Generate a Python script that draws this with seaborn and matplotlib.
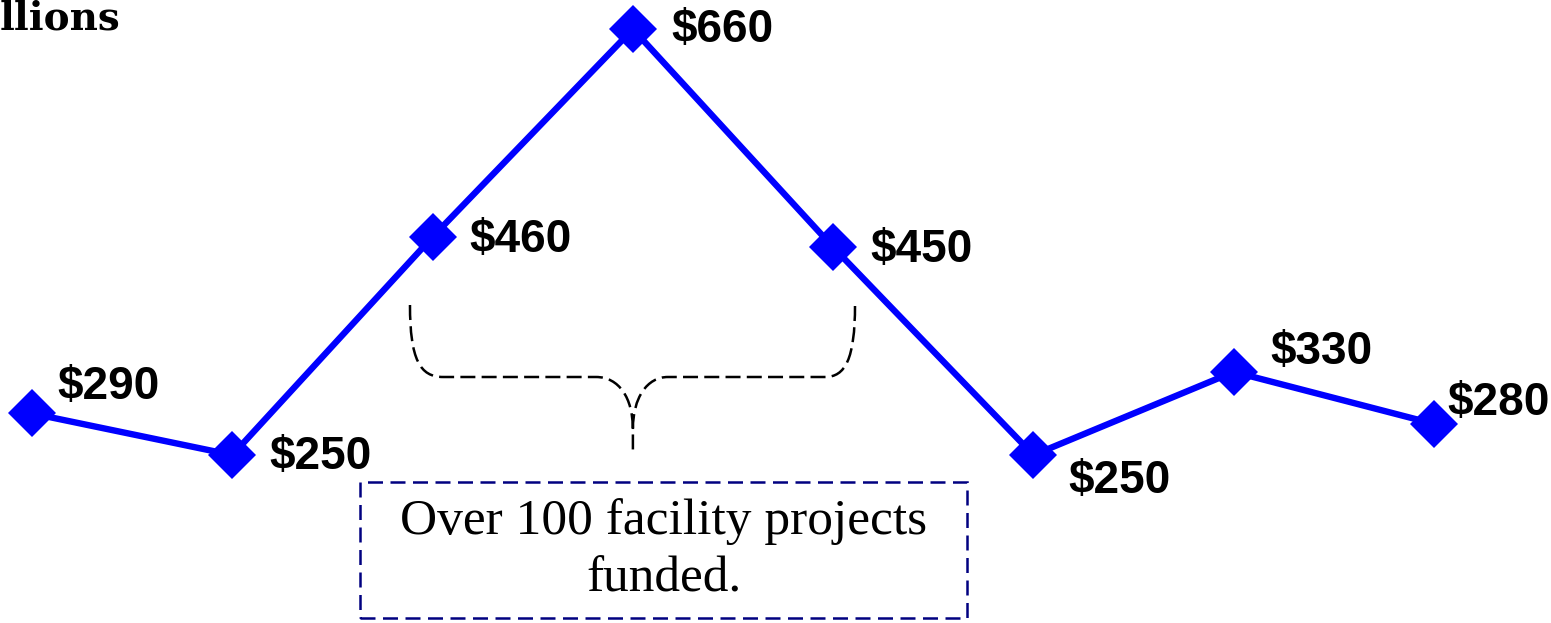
import numpy as np
import matplotlib
matplotlib.use("Agg")
import matplotlib.pyplot as plt
import seaborn as sns
import pandas as pd
from matplotlib.path import Path
from matplotlib.patches import PathPatch, Rectangle

# data ($ millions per period)
periods = list(range(8))
values = [290, 250, 460, 660, 450, 250, 330, 280]
labels = [f"${v}" for v in values]
note_text = "Over 100 facility projects\nfunded."
unit_text = "llions"

# label offsets in pixels (dx, dy with y pointing down)
label_offsets = [(25, -26), (37, 2), (37, 3), (38, 1),
                 (37, 3), (35, 26), (37, -20), (13, -21)]

sns.set_style("white")
plt.rcParams["font.family"] = ["Liberation Sans", "DejaVu Sans"]

df = pd.DataFrame({"period": periods, "value": values})

fig = plt.figure(figsize=(15.51, 6.23), dpi=100)
ax = fig.add_axes([0, 0, 1, 1])

sns.lineplot(data=df, x="period", y="value", ax=ax, color="#0000FF",
             linewidth=4.6, marker="D", markersize=24,
             markeredgewidth=0, markerfacecolor="#0000FF")

for x, y, lab, (dx, dy) in zip(periods, values, labels, label_offsets):
    ax.annotate(lab, (x, y), xytext=(dx * 0.72, -dy * 0.72),
                textcoords="offset points", ha="left", va="center",
                fontsize=33, fontweight="bold", color="black")

# curly brace over the peak years
xl, xr, xc = 1.887, 4.109, 3.0
ytop, ymid, yapex, ybot = 394.4, 325.1, 275.0, 254.8
verts = [
    (xl, ytop), (xl, 341.9), (1.937, ymid), (2.052, ymid),
    (2.816, ymid),
    (2.93, ymid), (xc, 305.0), (xc, yapex),
    (xc, ybot),
    (xc, yapex),
    (xc, 305.0), (3.07, ymid), (3.175, ymid),
    (3.959, ymid),
    (4.059, ymid), (xr, 341.9), (xr, ytop),
]
codes = [Path.MOVETO, Path.CURVE4, Path.CURVE4, Path.CURVE4,
         Path.LINETO,
         Path.CURVE4, Path.CURVE4, Path.CURVE4,
         Path.LINETO,
         Path.MOVETO,
         Path.CURVE4, Path.CURVE4, Path.CURVE4,
         Path.LINETO,
         Path.CURVE4, Path.CURVE4, Path.CURVE4]
ax.add_patch(PathPatch(Path(verts, codes), fill=False, edgecolor="black",
                       linewidth=1.8, linestyle=(0, (6, 2.5))))

# note box
ax.add_patch(Rectangle((0.2321, 0.008), 0.3914, 0.2183, transform=ax.transAxes,
                       fill=False, edgecolor="#000080", linewidth=1.8,
                       linestyle=(0, (6, 3))))
ax.text(0.4278, 0.117, note_text, transform=ax.transAxes, ha="center",
        va="center", fontsize=37, color="black",
        family=["Liberation Serif", "DejaVu Serif"], linespacing=1.3)

# unit label (top-left, only its tail is visible in the source)
ax.text(0.0, 0.952, unit_text, transform=ax.transAxes, ha="left",
        va="baseline", fontsize=28, fontweight="bold", color="black",
        family=["DejaVu Serif"])

ax.set_xlim(-0.16, 7.584)
ax.set_ylim(88.3, 688)
ax.set_xlabel("")
ax.set_ylabel("")
ax.set_xticks([])
ax.set_yticks([])
for s in ax.spines.values():
    s.set_visible(False)

fig.savefig("out.png", dpi=100)
plt.close(fig)
